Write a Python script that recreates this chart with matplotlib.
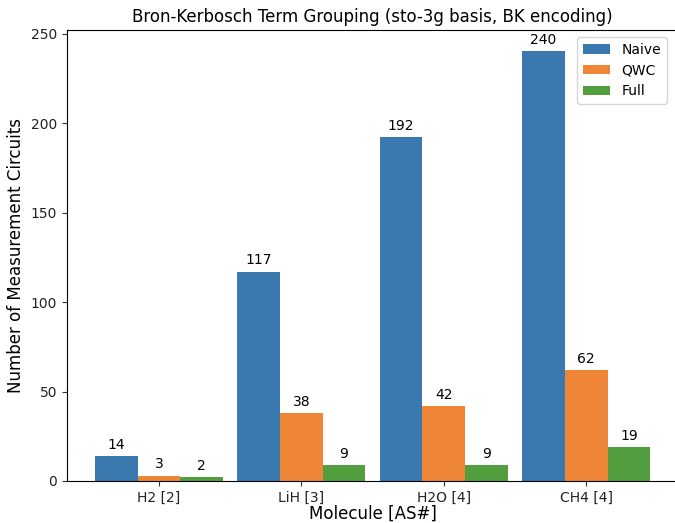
import numpy as np
import matplotlib
matplotlib.use("Agg")
import matplotlib.pyplot as plt

molecules = ['H2 [2]', 'LiH [3]', 'H2O [4]', 'CH4 [4]']
naive = [14, 117, 192, 240]
qwc = [3, 38, 42, 62]
full = [2, 9, 9, 19]

x = np.arange(len(molecules))
width = 0.3

fig = plt.figure(figsize=(6.75, 5.23), dpi=100)
# axes runs slightly past the right edge, as in the (cropped) original
ax = fig.add_axes([67/675, 42/523, 611/675, 451/523])

r1 = ax.bar(x - width, naive, width, color='#3a78b0', label='Naive')
r2 = ax.bar(x, qwc, width, color='#ef8637', label='QWC')
r3 = ax.bar(x + width, full, width, color='#529e3f', label='Full')

for rects in (r1, r2, r3):
    for r in rects:
        h = r.get_height()
        ax.annotate('%d' % h, xy=(r.get_x() + r.get_width() / 2, h),
                    xytext=(0, 3), textcoords='offset points',
                    ha='center', va='bottom', fontsize=10)

ax.set_title('Bron-Kerbosch Term Grouping (sto-3g basis, BK encoding)', fontsize=12)
ax.set_xlabel('Molecule [AS#]', fontsize=12, labelpad=0)
ax.set_ylabel('Number of Measurement Circuits', fontsize=12)
ax.set_xticks(x)
ax.set_xticklabels(molecules)
ax.tick_params(axis='both', colors='#333333', labelcolor='#222222')
ax.legend(loc='upper right', fontsize=10, bbox_to_anchor=(0.993, 1.0))

fig.savefig('out.png', dpi=100)
